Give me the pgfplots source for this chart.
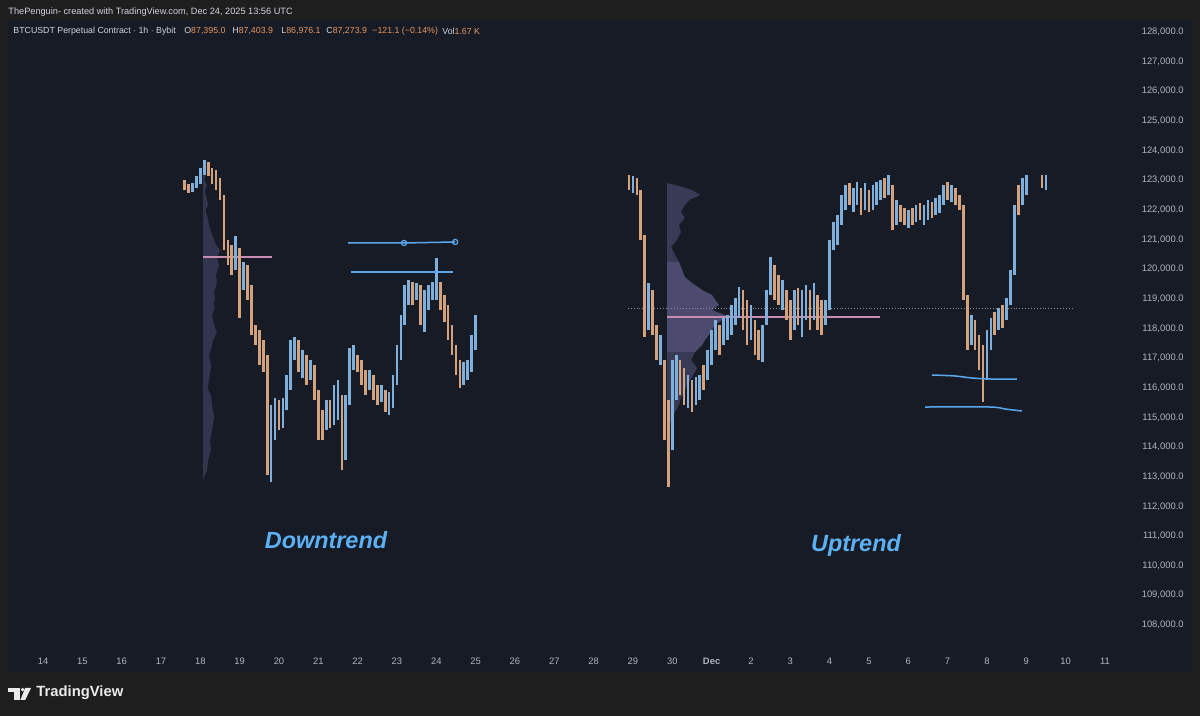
\documentclass[border=0pt]{standalone}
\usepackage{pgfplots}
\pgfplotsset{compat=1.18}
\usepackage{pgfplotstable}
\usepackage{fontspec}
\setmainfont{Liberation Sans}
\definecolor{outerbg}{HTML}{1E1E1E}
\definecolor{panelbg}{HTML}{171B26}
\definecolor{upc}{HTML}{7FB0DC}
\definecolor{dnc}{HTML}{D4A27C}
\definecolor{tickc}{HTML}{B2B5BE}
\definecolor{hdr}{HTML}{D1D4DC}
\definecolor{valc}{HTML}{E8965C}
\definecolor{bluel}{HTML}{5AA8EE}
\definecolor{pinkl}{HTML}{C98DB3}
\definecolor{profc}{HTML}{55557E}
\definecolor{profl}{HTML}{7A6FA6}
\definecolor{trendc}{HTML}{5CB1F4}
\definecolor{dotc}{HTML}{8A8D96}

\pgfplotstableread{
d lo hi u
3.6 122.671 123.008 0
3.7 122.569 122.873 0
3.8 122.603 122.906 1
3.9 122.738 123.143 1
4.0 122.873 123.413 1
4.1 123.177 123.683 1
4.2 123.143 123.615 0
4.3 122.873 123.413 0
4.4 122.671 123.345 0
4.5 122.333 123.075 0
4.6 120.647 122.502 0
4.7 120.141 120.984 0
4.8 119.804 120.816 0
4.9 119.972 121.119 1
5.0 118.353 120.715 0
5.1 119.298 120.242 1
5.2 118.960 120.141 0
5.3 117.780 119.466 0
5.4 117.442 118.117 0
5.5 116.768 117.948 0
5.6 116.532 117.611 0
5.7 113.057 117.105 0
5.8 112.821 115.418 1
5.9 114.238 115.655 1
6.0 114.575 115.587 0
6.1 114.643 115.655 1
6.2 115.250 116.430 1
6.3 115.925 117.611 1
6.4 116.936 117.712 1
6.5 116.532 117.611 0
6.6 116.329 117.274 1
6.7 116.093 117.105 0
6.8 116.262 116.936 1
6.9 115.587 116.768 0
7.0 114.238 115.925 0
7.1 114.238 115.250 0
7.2 114.575 115.587 1
7.3 114.643 115.587 0
7.4 114.744 116.093 1
7.5 114.912 116.262 1
7.6 113.226 115.756 0
7.7 113.563 115.756 1
7.8 115.418 117.341 1
7.9 116.599 117.442 1
8.0 116.532 117.105 0
8.1 116.093 116.936 0
8.2 115.756 116.599 0
8.3 115.925 116.599 1
8.4 115.587 116.430 0
8.5 115.418 116.093 0
8.6 115.520 116.093 1
8.7 115.182 115.925 0
8.8 115.081 115.857 1
8.9 115.317 116.430 1
9.0 116.093 117.442 1
9.1 116.936 118.454 1
9.2 118.117 119.466 1
9.3 118.792 119.635 1
9.4 118.792 119.568 0
9.5 118.960 119.534 1
9.6 118.117 119.466 0
9.7 117.881 119.298 1
9.8 118.623 119.466 1
9.9 118.960 119.568 1
10.0 118.960 120.377 1
10.1 118.623 119.568 0
10.2 118.218 119.129 0
10.3 117.611 118.792 0
10.4 117.105 118.117 0
10.5 116.430 117.442 0
10.6 115.992 116.936 0
10.7 116.093 116.869 1
10.8 116.262 116.936 1
10.9 116.532 117.780 1
11.0 117.274 118.454 1
}\gA

\pgfplotstableread{
d lo hi u
14.9 122.671 123.176 0
15.0 122.569 123.143 1
15.1 122.502 123.075 0
15.2 120.984 122.671 0
15.3 117.712 121.153 0
15.4 117.948 119.534 1
15.5 117.780 119.298 0
15.6 116.936 118.117 0
15.7 116.768 117.780 1
15.8 114.238 116.936 0
15.9 112.652 115.587 0
16.0 113.901 116.936 1
16.1 115.587 117.105 1
16.2 115.756 116.936 0
16.3 115.418 116.667 0
16.4 115.317 116.430 1
16.5 115.182 116.262 0
16.6 115.418 116.363 1
16.7 115.587 116.430 1
16.8 115.925 116.768 0
16.9 116.262 117.274 1
17.0 116.768 117.948 1
17.1 117.274 118.286 1
17.2 117.105 118.117 0
17.3 117.442 118.353 1
17.4 117.611 118.454 1
17.5 117.780 118.792 1
17.6 118.117 119.028 1
17.7 118.353 119.399 1
17.8 117.948 119.298 0
17.9 117.442 118.960 0
18.0 117.611 118.792 1
18.1 117.105 118.286 0
18.2 116.936 117.948 0
18.3 116.869 118.117 1
18.4 118.117 119.298 1
18.5 119.129 120.411 1
18.6 118.960 120.141 0
18.7 118.792 119.804 0
18.8 118.623 119.635 1
18.9 118.286 119.298 0
19.0 117.611 118.960 0
19.1 117.948 119.298 1
19.2 118.117 119.365 0
19.3 117.712 119.298 1
19.4 118.286 119.466 1
19.5 117.948 119.298 0
19.6 118.286 119.534 1
19.7 117.948 119.129 0
19.8 117.780 118.960 0
19.9 118.117 118.960 1
20.0 118.623 120.984 1
20.1 120.647 121.591 1
20.2 120.816 121.827 1
20.3 121.490 122.502 1
20.4 121.996 122.839 1
20.5 122.165 122.906 0
20.6 121.929 122.738 1
20.7 122.165 122.940 1
20.8 121.827 122.738 0
20.9 121.996 122.906 1
21.0 121.929 122.671 0
21.1 121.996 122.839 1
21.2 122.165 122.940 1
21.3 122.333 123.008 1
21.4 122.401 123.075 0
21.5 122.502 123.176 1
21.6 121.321 122.839 0
21.7 121.490 122.333 1
21.8 121.591 122.165 0
21.9 121.490 122.063 0
22.0 121.389 121.996 1
22.1 121.490 122.063 0
22.2 121.591 122.165 1
22.3 121.659 122.232 0
22.4 121.490 122.165 1
22.5 121.659 122.333 1
22.6 121.726 122.266 0
22.7 121.827 122.401 1
22.8 121.895 122.502 1
22.9 122.165 122.839 1
23.0 122.333 122.940 0
23.1 122.266 122.839 1
23.2 122.165 122.738 0
23.3 121.996 122.502 0
23.4 118.960 122.165 0
23.5 117.274 119.129 0
23.6 117.442 118.454 1
23.7 117.274 118.286 0
23.8 116.599 117.780 0
23.9 115.520 117.442 0
24.0 116.262 117.948 1
24.1 117.274 118.353 1
24.2 117.780 118.555 0
24.3 117.948 118.690 1
24.4 118.016 118.792 0
24.5 118.286 119.028 1
24.6 118.792 119.972 1
24.7 119.804 122.165 1
24.8 121.827 122.839 0
24.9 122.165 123.075 1
25.0 122.502 123.176 1
25.4 122.738 123.176 0
25.5 122.671 123.176 1
}\gB

\pgfplotsset{
  candle/.style={draw=none, mark=none, forget plot,
    error bars/.cd, y dir=both, y explicit, error mark=none,
    error bar style={draw=#1, line width=1.35pt}},
}

\begin{document}
\begin{tikzpicture}
\useasboundingbox (0,0) rectangle (600pt,358pt);
\fill[outerbg] (0,0) rectangle (600pt,358pt);
\fill[panelbg] (4pt,22pt) rectangle (596pt,347.5pt);
\begin{axis}[
  at={(4pt,34pt)}, anchor=south west,
  scale only axis, width=555pt, height=313pt,
  xmin=-0.89, xmax=27.333, ymin=107.222, ymax=128.337,
  axis line style={draw=none}, tick style={draw=none},
  clip=false,
  xtick={0,...,27},
  xticklabels={14,15,16,17,18,19,20,21,22,23,24,25,26,27,28,29,30,{\bfseries Dec},2,3,4,5,6,7,8,9,10,11},
  ytick={108,...,128},
  yticklabels={{108,000.0},{109,000.0},{110,000.0},{111,000.0},{112,000.0},{113,000.0},{114,000.0},{115,000.0},{116,000.0},{117,000.0},{118,000.0},{119,000.0},{120,000.0},{121,000.0},{122,000.0},{123,000.0},{124,000.0},{125,000.0},{126,000.0},{127,000.0},{128,000.0}},
  yticklabel pos=right,
  tick label style={font=\fontsize{4.7}{5.5}\selectfont, text=tickc},
  yticklabel style={anchor=east, inner sep=0pt, xshift=33pt},
  xticklabel style={anchor=center, inner sep=0pt, yshift=-6.5pt},
]
% volume profiles
\addplot[fill=profc, draw=none, fill opacity=0.45, forget plot] coordinates {
(4.07,123.345) (4.12,123.250) (4.14,123.176) (4.10,123.000) (4.17,122.839) (4.12,122.650) (4.14,122.502) (4.20,122.165) (4.13,122.000) (4.17,121.827) (4.22,121.490) (4.30,121.153) (4.40,120.816) (4.50,120.647) (4.42,120.377) (4.48,120.141) (4.40,119.804) (4.42,119.534) (4.35,119.230) (4.37,118.960) (4.33,118.850) (4.37,118.724) (4.30,118.454) (4.35,118.117) (4.42,117.848) (4.32,117.611) (4.27,117.274) (4.22,117.100) (4.25,116.936) (4.27,116.700) (4.22,116.262) (4.18,116.000) (4.27,115.756) (4.30,115.418) (4.35,115.014) (4.30,114.575) (4.25,114.238) (4.27,113.901) (4.20,113.563) (4.17,113.226) (4.07,112.888)} --cycle;
\addplot[fill=profc, draw=none, fill opacity=0.55, forget plot] coordinates {
(15.87,122.906) (16.17,122.805) (16.50,122.671) (16.71,122.502) (16.43,122.333) (16.32,122.165) (16.22,121.929) (16.32,121.726) (16.17,121.490) (16.22,121.254) (16.12,120.984) (15.97,120.748) (16.07,120.478) (16.17,120.242) (16.25,119.972) (16.32,119.736) (16.50,119.534) (16.76,119.298) (17.01,119.129) (17.09,118.960) (17.19,118.792) (17.01,118.623) (17.26,118.488) (17.47,118.387) (17.26,118.286) (17.09,118.117) (17.01,117.948) (16.93,117.780) (16.83,117.611) (16.76,117.442) (16.58,117.206) (16.48,116.936) (16.63,116.667) (16.53,116.430) (16.43,116.195) (16.32,115.925) (16.22,115.655) (16.17,115.418) (16.07,115.182) (15.99,114.912) (15.87,114.643)} --cycle;
\addplot[fill=profl, draw=none, fill opacity=0.3, forget plot] coordinates {
(15.87,120.242) (16.17,120.242) (16.25,119.972) (16.32,119.736) (16.50,119.534) (16.76,119.298) (17.01,119.129) (17.09,118.960) (17.19,118.792) (17.01,118.623) (17.26,118.488) (17.47,118.387) (17.26,118.286) (17.09,118.117) (17.01,117.948) (16.93,117.780) (16.83,117.611) (16.76,117.442) (16.58,117.206) (15.87,117.206)} --cycle;
% reference lines
\addplot[dotc, densely dotted, line width=0.45pt, forget plot] coordinates {(14.87,118.690) (26.16,118.690)};
\addplot[pinkl, line width=0.7pt, forget plot] coordinates {(4.07,120.410) (5.82,120.410)};
\addplot[pinkl, line width=0.7pt, forget plot] coordinates {(15.87,118.386) (21.28,118.386)};
% candles
\addplot[restrict expr to domain={\thisrow{u}}{0.5:1.5}, candle=upc] table[x=d, y expr={0.5*(\thisrow{lo}+\thisrow{hi})}, y error expr={0.5*(\thisrow{hi}-\thisrow{lo})}] {\gA};
\addplot[restrict expr to domain={\thisrow{u}}{-0.5:0.5}, candle=dnc] table[x=d, y expr={0.5*(\thisrow{lo}+\thisrow{hi})}, y error expr={0.5*(\thisrow{hi}-\thisrow{lo})}] {\gA};
\addplot[restrict expr to domain={\thisrow{u}}{0.5:1.5}, candle=upc] table[x=d, y expr={0.5*(\thisrow{lo}+\thisrow{hi})}, y error expr={0.5*(\thisrow{hi}-\thisrow{lo})}] {\gB};
\addplot[restrict expr to domain={\thisrow{u}}{-0.5:0.5}, candle=dnc] table[x=d, y expr={0.5*(\thisrow{lo}+\thisrow{hi})}, y error expr={0.5*(\thisrow{hi}-\thisrow{lo})}] {\gB};
% drawn annotation lines
\addplot[bluel, line width=0.75pt, forget plot] coordinates {(7.75,120.883) (9.18,120.883) (10.48,120.917)};
\addplot[bluel, only marks, mark=o, mark size=1.3pt, mark options={fill=panelbg, line width=0.6pt}, forget plot] coordinates {(9.18,120.883) (10.48,120.917)};
\addplot[bluel, line width=0.75pt, forget plot] coordinates {(7.83,119.904) (10.42,119.904)};
\addplot[bluel, line width=0.75pt, smooth, forget plot] coordinates {(22.60,116.430) (23.19,116.397) (23.62,116.329) (24.08,116.295) (24.76,116.295)};
\addplot[bluel, line width=0.75pt, smooth, forget plot] coordinates {(22.43,115.350) (24.08,115.350) (24.46,115.283) (24.89,115.216)};
\end{axis}
% header
\node[anchor=west, inner sep=0pt, text=hdr, font=\fontsize{4.6}{5.5}\selectfont] at (4pt,352pt) {ThePenguin- created with TradingView.com, Dec 24, 2025 13:56 UTC};
\begin{scope}[every node/.style={anchor=west, inner sep=0pt, font=\fontsize{4.4}{5.5}\selectfont}]
\node[text=hdr] at (6.5pt,342.5pt) {BTCUSDT Perpetual Contract · 1h · Bybit};
\node at (92pt,342.5pt) {\textcolor{hdr}{O}\textcolor{valc}{87,395.0}};
\node at (116pt,342.5pt) {\textcolor{hdr}{H}\textcolor{valc}{87,403.9}};
\node at (140.5pt,342.5pt) {\textcolor{hdr}{L}\textcolor{valc}{86,976.1}};
\node at (163pt,342.5pt) {\textcolor{hdr}{C}\textcolor{valc}{87,273.9}};
\node[text=valc] at (186pt,342.5pt) {−121.1 (−0.14\%)};
\node at (221pt,342.5pt) {\textcolor{hdr}{Vol}\textcolor{valc}{1.67 K}};
\end{scope}
% trend labels
\node[text=trendc, font=\fontsize{11.7}{13}\selectfont\bfseries\itshape] at (163pt,88pt) {Downtrend};
\node[text=trendc, font=\fontsize{11.7}{13}\selectfont\bfseries\itshape] at (428pt,85.5pt) {Uptrend};
% footer logo
\fill[white!92!black] (4.15pt,14pt) rectangle (10pt,12pt);
\fill[white!92!black] (7pt,12pt) rectangle (9.75pt,8pt);
\fill[white!92!black] (11.3pt,13.2pt) circle (0.95pt);
\fill[white!92!black] (12.6pt,14pt) -- (15.5pt,14pt) -- (12.6pt,8pt) -- (10.2pt,8pt) -- cycle;
\node[anchor=west, inner sep=0pt, text=white!92!black, font=\fontsize{7.4}{8}\selectfont\bfseries] at (18pt,11.5pt) {TradingView};
\end{tikzpicture}
\end{document}
